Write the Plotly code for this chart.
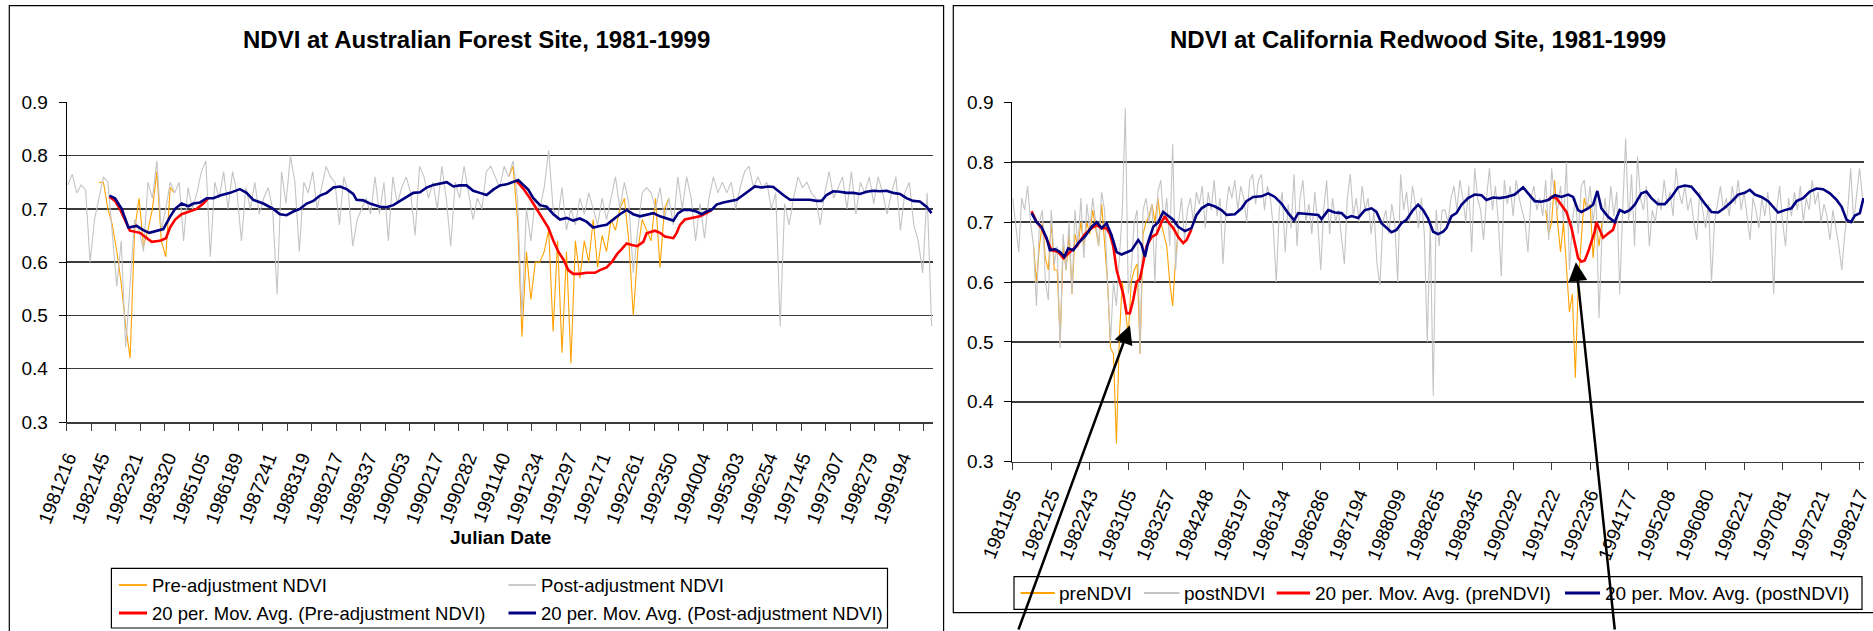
import plotly.graph_objects as go

W, H = 1873, 631
FONT = "Liberation Sans, Arial, Helvetica, sans-serif"

# ---------------- Australian forest site ----------------
aus_dates = ["1981216", "1982145", "1982321", "1983320", "1985105", "1986189",
             "1987241", "1988319", "1989217", "1989337", "1990053", "1990217",
             "1990282", "1991140", "1991234", "1991297", "1992171", "1992261",
             "1992350", "1994004", "1995303", "1996254", "1997145", "1997307",
             "1998279", "1999194"]
aus_n = 389            # number of composites on the category axis
aus_label_every = 15
aus_tick_every = 11

# post-adjustment NDVI, every 2nd composite
aus_post_step = 2
aus_post = [
    .745, .765, .73, .745, .735, .60, .68, .72, .76, .75,
    .65, .555, .64, .44, .56, .68, .66, .62, .75, .72,
    .79, .66, .70, .75, .73, .75, .64, .74, .70, .73,
    .77, .79, .61, .75, .72, .77, .70, .77, .73, .64,
    .74, .70, .75, .69, .72, .74, .70, .54, .77, .71,
    .80, .75, .62, .75, .73, .77, .70, .74, .78, .76,
    .75, .67, .76, .73, .63, .68,
    .70, .72, .69, .76, .69, .75, .64, .76, .71, .74,
    .76, .73, .65, .78, .76, .72, .75, .70, .78, .72,
    .63, .75, .72, .78, .73, .68, .72, .70, .77, .78,
    .76, .74, .78, .76, .79, .72, .50, .70, .64, .72,
    .70, .74, .81, .70, .68, .74, .66, .70, .67, .72,
    .69, .73, .70, .67, .72, .68, .72, .76, .70, .75,
    .71, .58, .66, .73, .74,
    .73, .70, .74, .68, .72, .67, .76, .70, .76, .72,
    .64, .71, .645, .72, .76, .73, .75, .73, .75, .70,
    .74, .77, .78, .74, .76, .74, .75, .70, .73, .48,
    .71, .67, .72, .76, .74, .75, .73, .72, .67, .73,
    .77, .72, .74, .76, .70, .77, .69, .75, .73, .76,
    .71, .76, .73, .69, .73, .76, .66, .73, .75, .67,
    .64, .58, .73, .48,
]

# pre-adjustment NDVI where it departs from the adjusted series
aus_pre_a_start = 14
aus_pre_a = [.75, .75, .70, .67, .62, .56, .48, .42, .66, .72,
             .63, .66, .70, .77, .64, .61, .74, .73]
aus_pre_b_start = 198
aus_pre_b = [.76, .78, .68, .46, .62, .53, .60, .60, .62, .66,
             .47, .64, .43, .62, .41, .64, .57, .64, .60, .68,
             .59, .65, .62, .68, .66, .70, .72, .64, .50, .62,
             .68, .66, .64, .72, .59, .70, .72]

# 20-period moving averages (composite index, NDVI)
aus_ma_post = [
    (19.2, .725), (21.7, .72), (24.7, .70), (27.7, .665), (31.4, .668), (34.4, .66),
    (37.1, .655), (40.4, .658), (43.4, .662), (46.4, .685), (48.7, .70), (51.6, .71),
    (54.6, .705), (56.9, .71), (59.9, .712), (62.9, .72), (65.9, .72), (68.9, .725),
    (73.4, .73), (77.8, .737), (80.8, .73), (83.8, .717), (88.3, .71), (92.8, .70),
    (95.8, .69), (98.8, .688), (101.8, .695), (104.8, .70), (107.8, .71), (110.8, .715),
    (113.8, .725), (116.8, .73), (119.8, .74), (122.8, .742), (125.7, .737), (128.7, .728),
    (130.2, .717), (133.2, .716), (136.2, .71), (140.7, .704), (143.7, .703), (146.7, .707),
    (149.7, .715), (152.7, .723), (155.7, .73), (158.7, .731), (161.7, .74), (164.7, .745),
    (167.7, .747), (170.7, .75), (173.7, .742), (176.6, .744), (179.6, .744), (182.6, .734),
    (185.6, .73), (188.6, .726), (191.6, .736), (194.6, .744), (197.6, .746), (200.6, .75),
    (202.8, .754), (205.1, .745), (207.3, .736), (209.6, .72), (212.6, .707), (215.6, .704),
    (218.6, .69), (221.6, .68), (224.6, .683), (227.5, .678), (230.5, .682), (233.5, .676),
    (236.5, .665), (239.5, .668), (242.5, .67), (245.5, .68), (248.5, .69), (251.5, .698),
    (254.5, .69), (257.5, .686), (260.5, .689), (263.5, .692), (266.5, .686), (269.5, .682),
    (272.5, .678), (274.7, .692), (277.0, .698), (280.0, .698), (282.9, .695), (285.2, .69),
    (287.4, .695), (289.7, .698), (291.9, .708), (294.9, .712), (297.9, .715), (300.9, .717),
    (303.9, .726), (306.9, .736), (309.1, .742), (312.1, .74), (315.1, .742), (317.4, .741),
    (319.6, .733), (321.9, .726), (324.9, .717), (327.8, .717), (330.8, .717), (333.8, .717),
    (336.8, .715), (339.1, .715), (341.3, .726), (344.3, .733), (347.3, .732), (350.3, .73),
    (353.3, .73), (356.3, .728), (359.3, .732), (362.3, .734), (365.3, .733), (368.3, .734),
    (371.3, .73), (374.3, .728), (377.2, .72), (380.2, .715), (383.2, .714), (386.2, .704),
    (388.5, .692),
]
aus_ma_pre_a = [
    (19.2, .723), (21.7, .715), (23.9, .70), (28.4, .659), (32.9, .655), (35.9, .645),
    (38.2, .638), (41.9, .64), (44.6, .645), (46.4, .665), (48.7, .68), (51.6, .69),
    (55.4, .695), (58.4, .70), (61.4, .71), (63.6, .72),
]
aus_ma_pre_b = [
    (202.1, .752), (205.1, .738), (208.1, .72), (211.1, .70), (214.1, .68), (216.3, .665),
    (218.6, .64), (220.8, .62), (223.1, .605), (225.3, .585), (227.5, .578), (230.5, .578),
    (233.5, .58), (237.3, .58), (239.5, .585), (242.5, .59), (244.8, .60), (247.2, .615),
    (249.4, .625), (251.5, .635), (253.9, .632), (256.3, .63), (259.0, .638), (260.5, .654),
    (264.2, .659), (266.5, .655), (268.7, .648), (272.5, .645), (274.0, .655), (275.5, .67),
    (277.7, .68), (281.4, .683), (284.4, .686), (287.4, .692), (289.7, .698),
]

# ---------------- California redwood site ----------------
cal_dates = ["1981195", "1982125", "1982243", "1983105", "1983257", "1984248",
             "1985197", "1986134", "1986286", "1987194", "1988099", "1988265",
             "1989345", "1990292", "1991222", "1992236", "1994177", "1995208",
             "1996080", "1996221", "1997081", "1997221", "1998217"]
cal_n = 863
cal_label_every = 39

# postNDVI, every 3rd composite
cal_post_step = 3
cal_post = [
    .74, .70, .65, .74, .72, .76, .70, .66, .56, .70,
    .72, .60, .57, .72, .63, .66, .49, .68, .62, .70,
    .58, .72, .66, .74, .64, .73, .69, .74, .70, .66,
    .75, .72, .60, .50, .60, .56, .64, .72, .89, .58,
    .62, .70, .72, .48, .72, .74, .70, .73, .60, .75,
    .77, .70, .74, .66, .83, .62, .70, .74, .67, .72,
    .74, .70, .75, .73, .76, .69, .75, .72, .77, .71,
    .74, .63, .72, .76, .74, .77, .72, .76, .74, .70,
    .77, .78, .73, .77, .78, .72, .76, .74, .69, .60,
    .72, .75, .65, .73, .69, .78,
    .66, .74, .77, .70, .73, .68, .75, .70, .62, .72,
    .77, .68, .74, .70, .72, .67, .63, .74, .78, .71,
    .74, .70, .76, .72, .74, .68, .72, .63, .595, .70,
    .72, .68, .73, .70, .60, .78, .72, .75, .70, .76,
    .73, .69, .74, .68, .50, .70, .41, .72, .66, .72,
    .72, .70, .74, .76, .72, .77, .74, .70, .76, .65,
    .79, .74, .72, .67, .74, .79, .72, .76, .70, .61,
    .77, .73, .76, .71, .77, .74, .72, .70, .65, .74,
    .76, .72, .74, .71, .77, .67, .79, .74, .72, .76,
    .70, .80, .62, .70, .74, .68, .76,
    .77, .72, .76, .70, .74, .54, .68, .74, .70, .76,
    .71, .75, .58, .72, .84, .70, .78, .66, .81, .74,
    .72, .76, .66, .72, .70, .74, .72, .77, .73, .75,
    .71, .79, .75, .73, .76, .72, .74, .70, .67, .75,
    .72, .69, .73, .60, .70, .73, .76, .72, .74, .71,
    .76, .73, .77, .72, .75, .71, .67, .74, .72, .69,
    .74, .71, .75, .70, .58, .72, .76, .70, .66, .74,
    .71, .75, .72, .76, .70, .74, .72, .77, .73, .75,
    .70, .73, .71, .67, .72, .69, .66, .62, .68, .72,
    .79, .70, .74, .79, .74,
]

cal_pre_a_start = 21
cal_pre_a = [.66, .60, .66, .70, .64, .62, .70, .62, .62, .50,
             .66, .62, .68, .58, .68, .66, .70, .66, .70, .68,
             .72, .69, .66, .73, .66, .60, .49, .48, .33, .51,
             .60, .55, .51, .60, .62, .63, .48, .68, .70, .71,
             .73, .70, .74, .70, .68, .66, .60, .56, .64, .69]
cal_pre_b_start = 540
cal_pre_b = [.72, .68, .70, .77, .70, .65, .70, .62, .55, .58,
             .44, .60, .68, .74, .72, .73, .64, .70, .66, .70]

cal_ma_post = [
    (19.6, .715), (24.6, .70), (29.7, .692), (34.8, .673), (38.1, .653), (43.2, .655),
    (48.3, .65), (52.7, .642), (56.7, .656), (61.8, .653), (66.8, .665), (73.6, .676),
    (80.4, .692), (85.4, .70), (90.5, .69), (95.5, .698), (100.6, .678), (105.7, .65),
    (110.7, .646), (115.8, .65), (120.9, .653), (127.6, .67), (131.0, .662), (134.4, .642),
    (137.7, .667), (142.8, .692), (147.9, .70), (152.9, .717), (158.0, .71), (163.1, .704),
    (168.1, .692), (174.9, .685), (181.6, .69), (186.7, .712), (191.8, .723), (198.5, .73),
    (205.3, .726), (212.0, .72), (217.1, .712), (225.5, .713), (232.3, .723), (237.3, .735),
    (244.1, .742), (252.5, .743), (259.3, .748), (266.0, .742), (272.8, .731), (279.5, .715),
    (285.6, .703), (289.7, .715), (296.4, .714), (303.2, .713), (310.0, .712), (313.3, .705),
    (320.1, .72), (326.8, .716), (333.6, .715), (338.6, .707), (343.7, .71), (350.4, .707),
    (357.2, .72), (364.0, .723), (369.0, .717), (374.1, .698), (379.1, .69), (384.2, .683),
    (389.3, .687), (394.3, .698), (399.4, .704), (406.1, .72), (411.2, .729), (416.3, .72),
    (421.3, .706), (426.4, .684), (431.5, .68), (436.5, .684), (439.9, .69), (445.0, .71),
    (450.0, .715), (455.1, .729), (461.8, .74), (468.6, .746), (475.4, .745), (480.4, .737),
    (487.2, .741), (493.9, .74), (500.7, .742), (509.1, .746), (517.6, .758), (524.3, .745),
    (529.4, .735), (536.1, .734), (542.9, .737), (549.7, .745), (556.4, .742), (563.2, .746),
    (568.2, .742), (573.3, .72), (576.6, .717), (583.4, .723), (588.5, .729), (592.8, .752),
    (596.9, .723), (603.7, .709), (610.4, .70), (615.5, .72), (620.5, .716), (625.6, .72),
    (630.7, .729), (637.4, .748), (642.5, .751), (647.6, .74), (654.3, .73), (661.1, .73),
    (667.8, .742), (674.6, .758), (681.4, .761), (688.1, .759), (694.9, .746), (701.6, .731),
    (708.4, .717), (715.2, .716), (721.9, .724), (728.7, .734), (735.5, .746), (742.2, .749),
    (747.3, .754), (752.4, .746), (759.1, .742), (765.9, .735), (770.9, .726), (776.0, .716),
    (782.8, .72), (789.5, .723), (794.6, .735), (801.3, .74), (808.1, .751), (814.9, .756),
    (821.6, .755), (828.4, .748), (835.2, .737), (840.2, .726), (845.3, .704), (849.7, .70),
    (853.8, .711), (858.8, .715), (862.5, .74),
]
cal_ma_pre_a = [
    (19.6, .718), (24.6, .70), (29.7, .69), (34.8, .67), (39.8, .653), (46.6, .65),
    (51.7, .64), (58.4, .65), (65.2, .66), (73.6, .68), (80.4, .69), (85.4, .695),
    (90.5, .69), (95.5, .69), (98.9, .68), (102.3, .66), (105.7, .62), (109.0, .60),
    (112.4, .58), (115.8, .548), (119.2, .548), (122.5, .57), (125.9, .60), (129.3, .605),
    (132.7, .635), (136.1, .66), (141.1, .675), (146.2, .68), (151.3, .70), (154.6, .71),
    (158.0, .70), (163.1, .69), (168.1, .675), (173.2, .665), (176.6, .67), (181.6, .688),
]
cal_ma_pre_b = [
    (543.0, .737), (546.3, .742), (551.4, .74), (556.4, .729), (561.5, .717), (566.6, .69),
    (570.0, .662), (573.3, .64), (576.6, .634), (580.0, .636), (583.4, .65), (586.7, .667),
    (590.1, .684), (591.8, .70), (595.2, .686), (598.6, .674), (603.7, .681), (608.7, .687),
    (611.1, .70),
]

# arrows marking the two drops of the unadjusted average (composite index, NDVI)
cal_arrow_tips = [(119.2, 0.528), (571.1, 0.633)]

# ---------------- colours ----------------
C_PRE = "#FFA200"
C_POST = "#C4C4C4"
C_MA_PRE = "#FF0000"
C_MA_POST = "#000080"
C_GRID = "#3C3C3C"


def centers(start, step, count):
    return [start + step * i + 0.5 for i in range(count)]


def px_x(p):
    return p / W


def px_y(p):
    return 1 - p / H


fig = go.Figure()


def add_series(xa, ya, post, post_step, pre_parts, ma_post, ma_pre_parts, names):
    for start, vals in pre_parts:
        fig.add_trace(go.Scatter(x=centers(start, post_step, len(vals)), y=vals, mode="lines",
                                 line=dict(color=C_PRE, width=1.1), name=names[0],
                                 xaxis=xa, yaxis=ya, hoverinfo="skip"))
    fig.add_trace(go.Scatter(x=centers(0, post_step, len(post)), y=post, mode="lines",
                             line=dict(color=C_POST, width=1.1), name=names[1],
                             xaxis=xa, yaxis=ya, hoverinfo="skip"))
    for part in ma_pre_parts:
        xs, ys = zip(*part)
        fig.add_trace(go.Scatter(x=xs, y=ys, mode="lines", line=dict(color=C_MA_PRE, width=2.6),
                                 name=names[2], xaxis=xa, yaxis=ya, hoverinfo="skip"))
    xs, ys = zip(*ma_post)
    fig.add_trace(go.Scatter(x=xs, y=ys, mode="lines", line=dict(color=C_MA_POST, width=2.6),
                             name=names[3], xaxis=xa, yaxis=ya, hoverinfo="skip"))


add_series("x", "y", aus_post, aus_post_step,
           [(aus_pre_a_start, aus_pre_a), (aus_pre_b_start, aus_pre_b)],
           aus_ma_post, [aus_ma_pre_a, aus_ma_pre_b],
           ["Pre-adjustment NDVI", "Post-adjustment NDVI",
            "20 per. Mov. Avg. (Pre-adjustment NDVI)", "20 per. Mov. Avg. (Post-adjustment NDVI)"])
add_series("x2", "y2", cal_post, cal_post_step,
           [(cal_pre_a_start, cal_pre_a), (cal_pre_b_start, cal_pre_b)],
           cal_ma_post, [cal_ma_pre_a, cal_ma_pre_b],
           ["preNDVI", "postNDVI", "20 per. Mov. Avg. (preNDVI)", "20 per. Mov. Avg. (postNDVI)"])

tick_font = dict(family=FONT, size=19, color="#000000")
y_common = dict(range=[0.3, 0.9], tickmode="array", tickvals=[0.3, 0.4, 0.5, 0.6, 0.7, 0.8, 0.9],
                tickformat=".1f", ticks="outside", ticklen=7, tickcolor="#000000", tickwidth=1,
                ticklabelstandoff=7, showgrid=True, gridcolor=C_GRID, gridwidth=1.5,
                showline=True, linecolor="#000000", linewidth=1, zeroline=False,
                tickfont=tick_font, automargin=False, fixedrange=True)
x_common = dict(showgrid=False, zeroline=False, showline=True, linecolor=C_GRID, linewidth=1.5,
                tickfont=tick_font, automargin=False, fixedrange=True)

fig.update_layout(
    width=W, height=H, margin=dict(l=0, r=0, t=0, b=0),
    paper_bgcolor="white", plot_bgcolor="white", showlegend=False, template="none",
    xaxis=dict(domain=[px_x(66.7), px_x(932.7)], range=[0, aus_n], anchor="y",
               tickmode="array",
               tickvals=[i * aus_label_every + 0.5 for i in range(len(aus_dates))],
               ticktext=aus_dates, tickangle=-69, ticks="", ticklabelstandoff=16,
               minor=dict(tickmode="array",
                          tickvals=list(range(0, aus_n, aus_tick_every)),
                          ticks="outside", ticklen=7, tickcolor=C_GRID, tickwidth=1),
               **x_common),
    yaxis=dict(domain=[px_y(422), px_y(102.3)], anchor="x", **y_common),
    xaxis2=dict(domain=[px_x(1012.3), px_x(1864)], range=[0, cal_n], anchor="y2",
                tickmode="array",
                tickvals=[i * cal_label_every + 0.5 for i in range(len(cal_dates))],
                ticktext=cal_dates, tickangle=-68, ticks="outside", ticklen=7,
                tickcolor=C_GRID, tickwidth=1, ticklabelstandoff=6, **x_common),
    yaxis2=dict(domain=[px_y(461.7), px_y(102.3)], anchor="x2", **y_common),
)

shapes = [
    # chart frames
    dict(type="rect", xref="paper", yref="paper", x0=px_x(9.3), x1=px_x(943.6),
         y0=px_y(660), y1=px_y(5.7), line=dict(color="#000000", width=1.2)),
    dict(type="rect", xref="paper", yref="paper", x0=px_x(953.3), x1=px_x(1890),
         y0=px_y(612.7), y1=px_y(5.7), line=dict(color="#000000", width=1.2)),
    # legend boxes
    dict(type="rect", xref="paper", yref="paper", x0=px_x(111.4), x1=px_x(887.5),
         y0=px_y(628), y1=px_y(568.3), line=dict(color="#000000", width=1.2)),
    dict(type="rect", xref="paper", yref="paper", x0=px_x(1014), x1=px_x(1862),
         y0=px_y(609.3), y1=px_y(576.7), line=dict(color="#000000", width=1.2)),
]

annotations = [
    dict(text="<b>NDVI at Australian Forest Site, 1981-1999</b>", x=px_x(476), y=px_y(40),
         xref="paper", yref="paper", showarrow=False, xanchor="center", yanchor="middle",
         font=dict(family=FONT, size=24, color="#000000")),
    dict(text="<b>NDVI at California Redwood Site, 1981-1999</b>", x=px_x(1418), y=px_y(39.5),
         xref="paper", yref="paper", showarrow=False, xanchor="center", yanchor="middle",
         font=dict(family=FONT, size=24, color="#000000")),
    dict(text="<b>Julian Date</b>", x=px_x(501), y=px_y(537), xref="paper", yref="paper",
         showarrow=False, xanchor="center", yanchor="middle",
         font=dict(family=FONT, size=19, color="#000000")),
]

# legend entries: (sample x0, x1, y, colour, width, text x, label, font size)
legend_items = [
    (119, 147, 585, C_PRE, 1.8, 151, "Pre-adjustment NDVI", 18.5),
    (508.5, 536, 585, C_POST, 1.8, 540, "Post-adjustment NDVI", 18.5),
    (119, 147, 613, C_MA_PRE, 3, 151, "20 per. Mov. Avg. (Pre-adjustment NDVI)", 18.5),
    (508.5, 536, 613, C_MA_POST, 3, 540, "20 per. Mov. Avg. (Post-adjustment NDVI)", 18.5),
    (1020.6, 1054.8, 593, C_PRE, 1.8, 1058, "preNDVI", 19),
    (1144, 1179.5, 593, C_POST, 1.8, 1183, "postNDVI", 19),
    (1276.7, 1310, 593, C_MA_PRE, 3, 1314, "20 per. Mov. Avg. (preNDVI)", 19),
    (1565, 1600, 593, C_MA_POST, 3, 1603.5, "20 per. Mov. Avg. (postNDVI)", 19),
]
for x0, x1, yy, col, lw, tx, label, fs in legend_items:
    shapes.append(dict(type="line", xref="paper", yref="paper", x0=px_x(x0), x1=px_x(x1),
                       y0=px_y(yy), y1=px_y(yy), line=dict(color=col, width=lw)))
    annotations.append(dict(text=label, x=px_x(tx), y=px_y(yy), xref="paper", yref="paper",
                            showarrow=False, xanchor="left", yanchor="middle", borderpad=0,
                            font=dict(family=FONT, size=fs, color="#000000")))

# arrows rising from below the frame to the dips
arrow_offsets = [(-112, 325), (39, 388)]
for (ax_, ay_), (tx, ty) in zip(arrow_offsets, cal_arrow_tips):
    annotations.append(dict(text="", x=tx, y=ty, xref="x2", yref="y2", showarrow=True,
                            ax=ax_, ay=ay_, arrowhead=2, arrowsize=1.5, arrowwidth=2.5,
                            arrowcolor="#000000", standoff=0))

fig.update_layout(shapes=shapes, annotations=annotations)

fig.write_html("out.html", config={"displayModeBar": False, "staticPlot": True})
